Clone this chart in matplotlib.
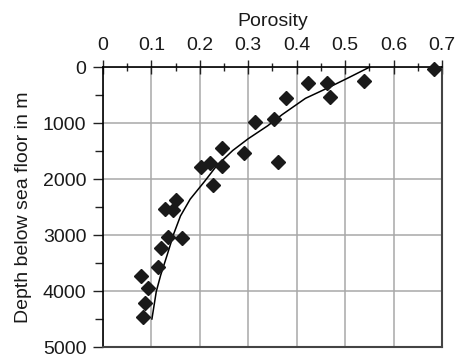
import numpy as np
import matplotlib
matplotlib.use("Agg")
import matplotlib.pyplot as plt
from matplotlib.ticker import MultipleLocator

plt.rcParams['font.family'] = ['Liberation Sans', 'DejaVu Sans']

porosity = [0.683, 0.424, 0.462, 0.468, 0.538, 0.377, 0.313, 0.354, 0.246, 0.292,
            0.221, 0.203, 0.246, 0.228, 0.362, 0.151, 0.128, 0.145, 0.135, 0.164,
            0.120, 0.114, 0.079, 0.093, 0.087, 0.083]
depth = [35, 285, 285, 530, 250, 550, 990, 920, 1450, 1540,
         1720, 1790, 1760, 2100, 1690, 2380, 2540, 2550, 3030, 3050,
         3230, 3580, 3740, 3950, 4220, 4470]

# compaction trend curve
trend_phi = [0.551, 0.505, 0.465, 0.418, 0.370, 0.340, 0.300, 0.268, 0.235,
             0.210, 0.180, 0.160, 0.146, 0.132, 0.119, 0.110, 0.101]
trend_depth = [0, 200, 370, 560, 850, 1050, 1280, 1490, 1760,
               2040, 2360, 2660, 2980, 3370, 3720, 4010, 4500]

fig = plt.figure(figsize=(4.56, 3.56), dpi=100)
ax = fig.add_axes([103/456, 1 - 347/356, (442 - 103)/456, (347 - 67)/356])

ax.plot(trend_phi, trend_depth, color='black', lw=1.1, zorder=3)
ax.plot(porosity, depth, 'D', color='#1a1a1a', markersize=7, zorder=4, clip_on=False)

ax.set_xlim(0, 0.7)
ax.set_ylim(5000, 0)
ax.xaxis.set_major_locator(MultipleLocator(0.1))
ax.xaxis.set_minor_locator(MultipleLocator(0.05))
ax.yaxis.set_major_locator(MultipleLocator(1000))
ax.yaxis.set_minor_locator(MultipleLocator(500))
ax.xaxis.tick_top()
ax.xaxis.set_label_position('top')
ax.set_xticklabels(['0', '0.1', '0.2', '0.3', '0.4', '0.5', '0.6', '0.7'])
ax.set_xticks(np.arange(0, 0.71, 0.1))
ax.set_xticklabels(['0', '0.1', '0.2', '0.3', '0.4', '0.5', '0.6', '0.7'])

ax.tick_params(axis='x', which='both', direction='inout', top=True, bottom=False,
               labelsize=14, pad=4, colors='#222222', labelcolor='#1a1a1a')
ax.tick_params(axis='x', which='major', length=10, width=1)
ax.tick_params(axis='x', which='minor', length=6, width=1)
ax.tick_params(axis='y', which='both', direction='out', left=True, right=False,
               labelsize=14, pad=5, colors='#222222', labelcolor='#1a1a1a')
ax.tick_params(axis='y', which='major', length=7, width=1)
ax.tick_params(axis='y', which='minor', length=6, width=1)

ax.grid(True, which='major', color='#a8a8a8', lw=1.1)
ax.set_axisbelow(True)

for s in ['top', 'left']:
    ax.spines[s].set_color('black')
    ax.spines[s].set_linewidth(1.2)
for s in ['bottom', 'right']:
    ax.spines[s].set_color('#444444')
    ax.spines[s].set_linewidth(1.5)

ax.set_xlabel('Porosity', fontsize=14, labelpad=8, color='#1a1a1a')
ax.set_ylabel('Depth below sea floor in m', fontsize=14, labelpad=8, color='#1a1a1a')

fig.savefig('out.png', dpi=100)
